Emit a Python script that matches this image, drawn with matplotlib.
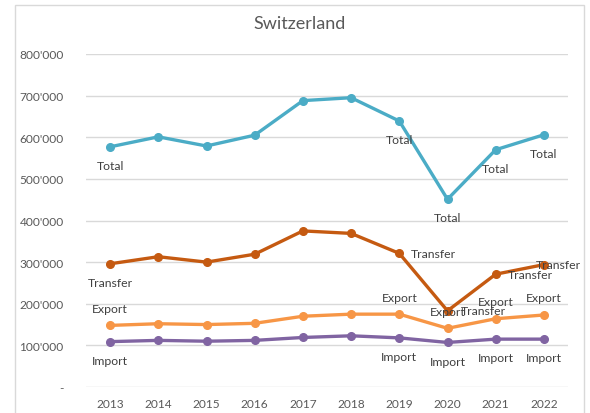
import matplotlib
matplotlib.use("Agg")
import matplotlib.pyplot as plt
from matplotlib.ticker import FuncFormatter
from matplotlib.patches import Rectangle

years = ["2013", "2014", "2015", "2016", "2017", "2018", "2019", "2020", "2021", "2022"]
total = [577000, 601000, 579000, 605000, 688000, 695000, 639000, 451000, 570000, 606000]
transfer = [296000, 313000, 300000, 319000, 375000, 369000, 321000, 183000, 271000, 294000]
export = [148000, 152000, 150000, 153000, 170000, 175000, 175000, 141000, 164000, 173000]
imports = [109000, 112000, 110000, 112000, 119000, 123000, 118000, 107000, 115000, 115000]

plt.rcParams['font.family'] = ['Lato', 'DejaVu Sans']

fig = plt.figure(figsize=(5.9, 4.14), dpi=100)
fig.patches.append(Rectangle((15/590, -0.01), (584-15)/590, (412)/414, transform=fig.transFigure,
                             fill=False, edgecolor='#D9D9D9', linewidth=1.0))
ax = fig.add_axes([86/590, (414-388)/414, (568-86)/590, (388-55)/414])

x = list(range(len(years)))
series = [
    ("Total", total, '#4BACC6'),
    ("Transfer", transfer, '#C55A11'),
    ("Export", export, '#F79646'),
    ("Import", imports, '#8064A2'),
]
for name, vals, col in series:
    ax.plot(x, vals, color=col, linewidth=2.4, marker='o', markersize=5.5, zorder=3,
            solid_capstyle='round')

label_color = '#404040'
fs = 8.8
# data labels
def lab(name, vals, i, dx, dy, ha='center'):
    ax.annotate(name, (x[i], vals[i]), xytext=(dx, dy), textcoords='offset points',
                ha=ha, va='center', fontsize=fs, color=label_color, zorder=4)

for i in [0, 6, 7, 8, 9]:
    lab("Total", total, i, 0, -13.3)
lab("Transfer", transfer, 0, 0, -13.5)
lab("Transfer", transfer, 6, 8.6, 0, 'left')
lab("Transfer", transfer, 7, 9.5, 0.5, 'left')
lab("Transfer", transfer, 8, 8.6, -0.5, 'left')
lab("Transfer", transfer, 9, -6, 0, 'left')
for i in [0, 6, 7, 8, 9]:
    lab("Export", export, i, 0, 12.3)
for i in [0, 6, 7, 8, 9]:
    lab("Import", imports, i, 0, -13.5)

ax.set_xlim(-0.5, len(years) - 0.5)
ax.set_ylim(0, 800000)
ax.set_yticks(range(0, 800001, 100000))
ax.yaxis.set_major_formatter(FuncFormatter(
    lambda v, p: '-' if v == 0 else "{:,.0f}".format(v).replace(',', "'")))
ax.set_xticks(x)
ax.set_xticklabels(years)
ax.grid(axis='y', color='#D9D9D9', linewidth=1.0)
ax.set_axisbelow(True)
for s in ax.spines.values():
    s.set_visible(False)
ax.tick_params(axis='both', length=0, labelsize=8.6, labelcolor='#595959')
ax.tick_params(axis='y', pad=16)
ax.tick_params(axis='x', pad=8)

fig.text(300/590, 1 - 24/414, "Switzerland", ha='center', va='center', fontsize=13, color='#595959')

fig.savefig("out.png", dpi=100)
